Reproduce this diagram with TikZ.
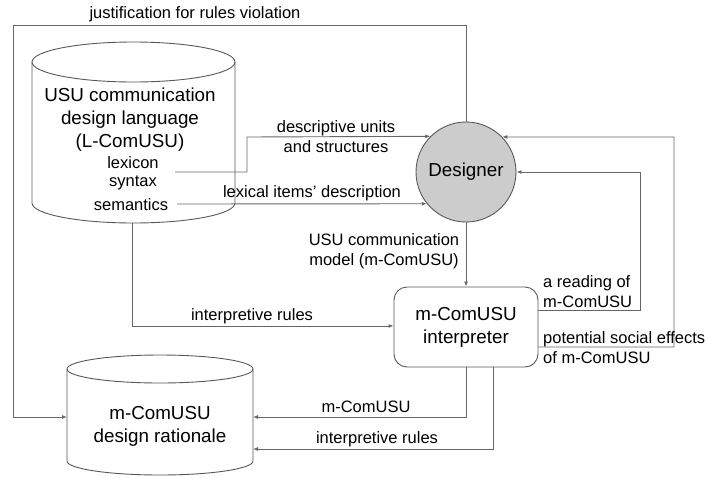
\documentclass[tikz,border=0pt]{standalone}
\usepackage{fontspec}
\setmainfont{Liberation Sans}
\usetikzlibrary{arrows.meta}
\begin{document}
\begin{tikzpicture}[x=1pt,y=-1pt,
  conn/.style={draw=black!60, line width=0.9pt, -{Latex[length=5pt,width=4pt]}},
  shapeline/.style={draw=black!65, line width=0.9pt},
  lbl/.style={inner sep=0pt, font=\fontsize{16.5}{20}\selectfont, align=center},
  big/.style={inner sep=0pt, font=\fontsize{18.8}{23}\selectfont, align=center}]
\useasboundingbox (0,0) rectangle (709,477);
% top cylinder (L-ComUSU)
\draw[shapeline, fill=white] (32,62) -- (32,203) arc[start angle=180, end angle=0, x radius=101.5, y radius=20] -- (235,62);
\draw[shapeline] (133.5,62) ellipse [x radius=101.5, y radius=20];
% bottom cylinder (design rationale)
\draw[shapeline, fill=white] (67,369) -- (67,461) arc[start angle=180, end angle=0, x radius=93, y radius=14] -- (253,369);
\draw[shapeline] (160,369) ellipse [x radius=93, y radius=14];

% nodes
\node[big] (lang) at (130,120) {USU communication\\design language\\(L-ComUSU)};
\node[lbl] (lex) at (133,163) {lexicon};
\node[lbl] (syn) at (133,183) {syntax};
\node[lbl] (sem) at (131,205) {semantics};
\node[big] (rat) at (160,426) {m-ComUSU\\design rationale};
\node[circle, shapeline, fill=black!20, minimum size=100pt, inner sep=0pt,
      font=\fontsize{18.8}{23}\selectfont] (des) at (466,172) {Designer};
\node[shapeline, rounded corners=13pt, minimum width=144pt, minimum height=80pt,
      inner sep=0pt, align=center, font=\fontsize{18.8}{23}\selectfont] (int) at (466,327) {m-ComUSU\\interpreter};

% coordinates
\coordinate (jTL) at (13,25);
\coordinate (ratW) at (67,417);
\coordinate (ratE1) at (253,417);
\coordinate (ratE2) at (253,449);
\coordinate (lexOut) at (175,172);
\coordinate (lexBend) at (247,137);
\coordinate (semOut) at (177,204);
\coordinate (cylB) at (132,223);
\coordinate (readCorner) at (640,172);
\coordinate (potCorner) at (674,137);

% connectors
\draw[conn] (des.north) |- (jTL) |- (ratW);
\draw[conn] (lexOut) -| (lexBend) -- (des.135.6);
\draw[conn] (semOut) -- (des.219.8);
\draw[conn] (des.south) -- (int.north);
\draw[conn] (cylB) |- ([yshift=1pt]int.west);
\draw[conn] ([yshift=17pt]int.east) -| (readCorner) -- (des.east);
\draw[conn] ([yshift=-20pt]int.east) -| (potCorner) -- (des.44.4);
\draw[conn] (int.south) |- (ratE1);
\draw[conn] ([xshift=27pt]int.south) |- (ratE2);

% labels
\node[lbl] (l1) at (195,14) {justification for rules violation};
\node[lbl] (l2) at (336,137) {descriptive units\\and structures};
\node[lbl] (l3) at (312,193) {lexical items' description};
\node[lbl] (l4) at (384,251) {USU communication\\model (m-ComUSU)};
\node[lbl] (l5) at (252,316) {interpretive rules};
\node[lbl, anchor=west, align=left] (l6) at (543,292) {a reading of\\m-ComUSU};
\node[lbl, anchor=west, align=left] (l7) at (543,348) {potential social effects\\of m-ComUSU};
\node[lbl] (l8) at (366,407) {m-ComUSU};
\node[lbl] (l9) at (377,439) {interpretive rules};
\end{tikzpicture}
\end{document}
